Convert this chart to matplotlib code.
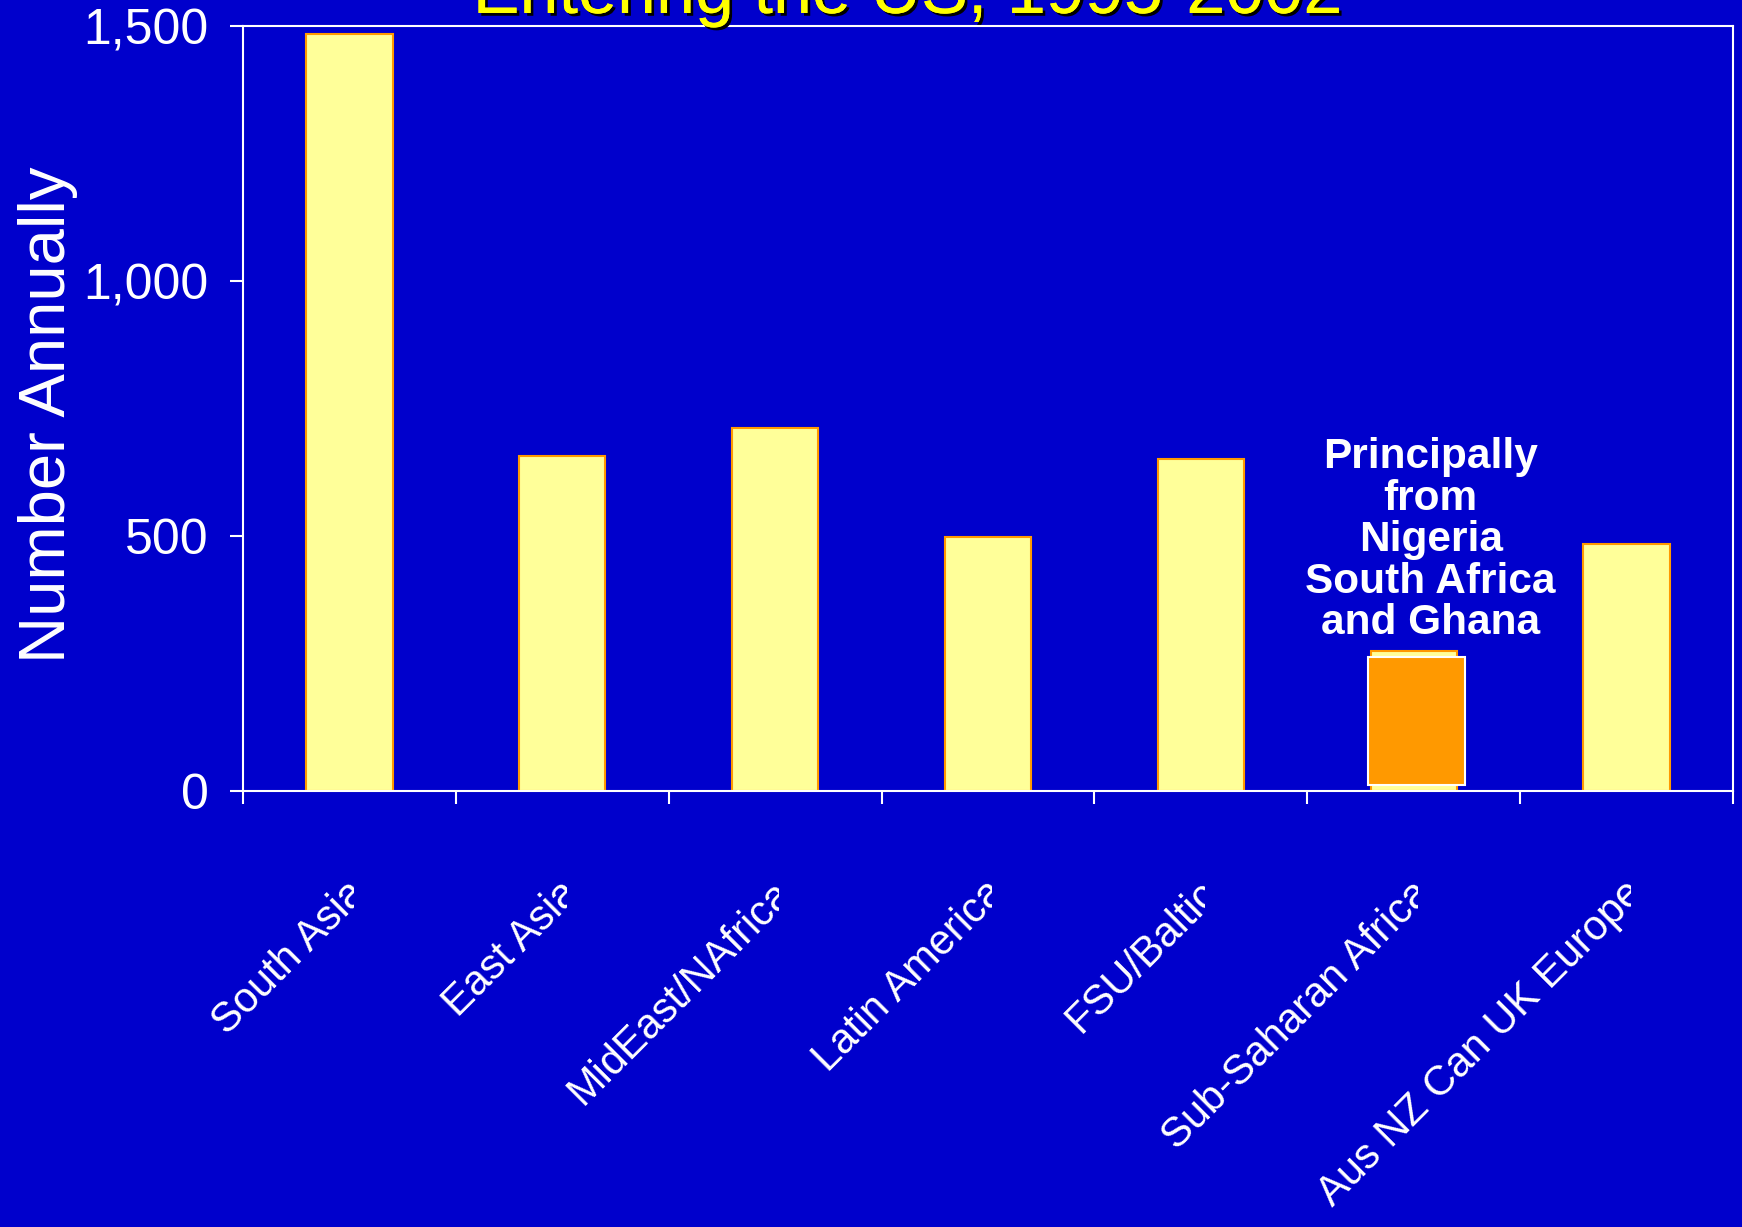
import matplotlib
matplotlib.use("Agg")
import matplotlib.pyplot as plt
import matplotlib.patheffects as pe
from matplotlib import font_manager
from matplotlib.patches import Rectangle
from matplotlib.transforms import Bbox, TransformedBbox, blended_transform_factory

# Data
regions = ["South Asia", "East Asia", "MidEast/NAfrica", "Latin America",
           "FSU/Baltic", "Sub-Saharan Africa", "Aus NZ Can UK Europe"]
counts = [1485, 657, 712, 498, 651, 274, 485]
yticks = [0, 500, 1000, 1500]
ytick_labels = ["0", "500", "1,000", "1,500"]
highlight_idx = 5
note = "Principally\nfrom\nNigeria\nSouth Africa\nand Ghana"

BG = "#0000CC"
BAR_FILL = "#FFFF99"
BAR_EDGE = "#FF9900"
HILITE = "#FF9900"
FONT = "Liberation Sans"

# the slide uses a condensed face for the axis labels; use it if present
installed = {f.name for f in font_manager.fontManager.ttflist}
if "Liberation Sans Narrow" in installed:
    TICK_FONT, YTICK_SIZE, XLAB_SIZE = "Liberation Sans Narrow", 39, 35
else:
    TICK_FONT, YTICK_SIZE, XLAB_SIZE = FONT, 36, 30

plt.rcParams["font.family"] = [FONT, "DejaVu Sans"]

fig = plt.figure(figsize=(17.42, 12.27), dpi=100, facecolor=BG)
ax = fig.add_axes([0.1395, 0.3553, 0.8553, 0.6235])
ax.set_facecolor(BG)

x = list(range(len(regions)))
bars = ax.bar(x, counts, width=0.405, color=BAR_FILL, edgecolor=BAR_EDGE,
              linewidth=1.5, zorder=2)

# orange highlight box over the Sub-Saharan bar
hb = bars[highlight_idx]
h = hb.get_height()
ax.add_patch(Rectangle((hb.get_x() - 0.01, 0.04 * h), hb.get_width() + 0.05, 0.92 * h,
                       facecolor=HILITE, edgecolor="white", linewidth=1.5, zorder=3))

ax.text(highlight_idx + 0.08, 492, note, ha="center", va="center",
        fontsize=30.5, fontweight="bold", color="white", linespacing=1.05, zorder=4)

ax.set_xlim(-0.5, len(regions) - 0.5)
ax.set_ylim(0, 1500)

for s in ax.spines.values():
    s.set_color("white")
    s.set_linewidth(1.5)

ax.set_yticks(yticks)
ax.set_yticklabels(ytick_labels, family=[TICK_FONT, "DejaVu Sans"])
ax.tick_params(axis="y", colors="white", labelsize=YTICK_SIZE, length=9.5, width=1.5,
               direction="out", pad=15)
ax.set_xticks([i - 0.5 for i in range(len(regions) + 1)])
ax.set_xticklabels([])
ax.tick_params(axis="x", colors="white", length=9.5, width=1.5, direction="out")

# rotated category labels, clipped at the category centre
trans = blended_transform_factory(ax.transData, ax.transAxes)
for i, name in enumerate(regions):
    t = fig.text(i + 0.05, -0.126, name, transform=trans, rotation=45,
                 rotation_mode="anchor", ha="right", va="center",
                 fontsize=XLAB_SIZE, color="white", family=[TICK_FONT, "DejaVu Sans"])
    t.set_clip_on(True)
    t.set_clip_box(TransformedBbox(Bbox([[i - 10, -5], [i + 0.02, 5]]), trans))

fig.text(48 / 1742, 0.662, "Number Annually", rotation=90, ha="center", va="center",
         fontsize=47, color="white")

fig.text(0.521, 0.9894, "Entering the US, 1995-2002", ha="center", va="baseline",
         fontsize=50.5, color="#FFFF00",
         path_effects=[pe.withSimplePatchShadow(offset=(2, -2), shadow_rgbFace="black", alpha=1),
                       pe.Normal()])

fig.savefig("out.png", dpi=100, facecolor=BG)
